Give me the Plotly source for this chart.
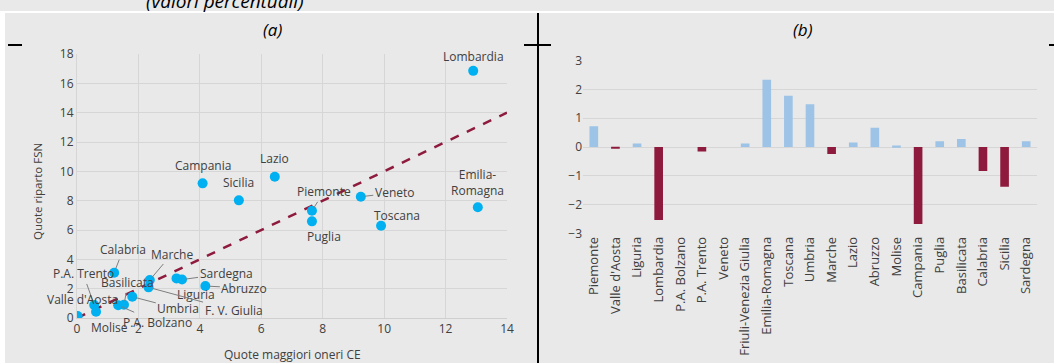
import plotly.graph_objects as go

# ---------------- data ----------------
regions_a = ["Lombardia", "Emilia-Romagna", "Veneto", "Piemonte", "Puglia", "Toscana",
             "Lazio", "Campania", "Sicilia", "Calabria", "Marche", "Sardegna", "Liguria",
             "Abruzzo", "Basilicata", "Umbria", "F. V. Giulia", "P.A. Trento",
             "Valle d'Aosta", "P.A. Bolzano", "Molise"]
quote_ce = [12.9, 13.05, 9.24, 7.65, 7.65, 9.9, 6.44, 4.09, 5.27, 1.21, 2.37, 3.42, 3.24,
            4.18, 1.53, 1.80, 2.33, 0.56, 0.02, 1.34, 0.62]
quote_fsn = [16.85, 7.55, 8.27, 7.31, 6.59, 6.29, 9.63, 9.18, 8.02, 3.09, 2.59, 2.62, 2.70,
             2.18, 0.90, 1.45, 2.09, 0.89, 0.14, 0.87, 0.43]
bisector = [0, 14]

regions_b = ["Piemonte", "Valle d'Aosta", "Liguria", "Lombardia", "P.A. Bolzano", "P.A. Trento",
             "Veneto", "Friuli-Venezia Giulia", "Emilia-Romagna", "Toscana", "Umbria", "Marche",
             "Lazio", "Abruzzo", "Molise", "Campania", "Puglia", "Basilicata", "Calabria",
             "Sicilia", "Sardegna"]
diff_b = [0.72, -0.05, 0.12, -2.54, 0.0, -0.16, 0.0, 0.12, 2.34, 1.78, 1.49, -0.24,
          0.16, 0.67, 0.05, -2.68, 0.20, 0.28, -0.83, -1.38, 0.20]

# label placement (pixel offsets, arrow flag)
label_pos = {
    "Lombardia": (0, -14, False), "Emilia-Romagna": (0, -25, False), "Veneto": (34, -4, True),
    "Piemonte": (12, -19, True), "Puglia": (12, 15, False), "Toscana": (16, -10, False),
    "Lazio": (0, -18, False), "Campania": (0, -18, False), "Sicilia": (0, -18, False),
    "Calabria": (9, -23, True), "Marche": (22, -26, True), "Sardegna": (44, -6, True),
    "Liguria": (19, 16, False), "Abruzzo": (39, 2, True), "Basilicata": (4, -22, True),
    "Umbria": (46, 12, True), "F. V. Giulia": (85, 23, True), "P.A. Trento": (-11, -31, True),
    "Valle d'Aosta": (5, -16, False), "P.A. Bolzano": (39, 17, True), "Molise": (13, 16, False),
}

W, H = 1054, 363
BG = "#e9e9e9"
GRID = "#d6d6d6"
DARKRED = "#8e1b3d"
LIGHTBLUE = "#9dc3e6"
FONT = "Open Sans"

def px(x):
    return x / W

def py(y):
    return 1 - y / H

fig = go.Figure()

fig.add_trace(go.Scatter(x=bisector, y=bisector, mode="lines",
                         line=dict(color=DARKRED, width=2.5, dash="dash"),
                         xaxis="x", yaxis="y", hoverinfo="skip"))
fig.add_trace(go.Scatter(x=quote_ce, y=quote_fsn, mode="markers",
                         marker=dict(color="#00b0f0", size=10),
                         xaxis="x", yaxis="y"))

fig.add_trace(go.Bar(x=regions_b, y=diff_b, xaxis="x2", yaxis="y2", width=0.4,
                     marker=dict(color=[LIGHTBLUE if v >= 0 else DARKRED for v in diff_b],
                                 line=dict(width=0))))

annotations = []
for name, xv, yv in zip(regions_a, quote_ce, quote_fsn):
    dx, dy, arrow = label_pos[name]
    text = "Emilia-<br>Romagna" if name == "Emilia-Romagna" else name
    if arrow:
        annotations.append(dict(x=xv, y=yv, xref="x", yref="y", text=text,
                                showarrow=True, ax=dx, ay=dy, arrowhead=0, arrowwidth=1,
                                arrowcolor="#7f7f7f", standoff=4,
                                font=dict(family=FONT, size=12, color="#404040")))
    else:
        annotations.append(dict(x=xv, y=yv, xref="x", yref="y", text=text,
                                showarrow=False, xshift=dx, yshift=-dy,
                                font=dict(family=FONT, size=12, color="#404040")))

annotations += [
    dict(x=px(225), y=py(16), xref="paper", yref="paper", text="<i>(valori percentuali)</i>",
         showarrow=False, xanchor="center", yanchor="bottom",
         font=dict(family=FONT, size=19, color="#000000")),
    dict(x=px(272), y=py(30), xref="paper", yref="paper", text="<i>(a)</i>",
         showarrow=False, xanchor="center", yanchor="middle",
         font=dict(family=FONT, size=17, color="#000000")),
    dict(x=px(803), y=py(30), xref="paper", yref="paper", text="<i>(b)</i>",
         showarrow=False, xanchor="center", yanchor="middle",
         font=dict(family=FONT, size=17, color="#000000")),
    dict(x=px(37), y=py(192), xref="paper", yref="paper", text="Quote riparto FSN",
         showarrow=False, textangle=-90, xanchor="center", yanchor="middle",
         font=dict(family=FONT, size=11.5, color="#404040")),
    dict(x=px(292), y=py(354), xref="paper", yref="paper", text="Quote maggiori oneri CE",
         showarrow=False, xanchor="center", yanchor="middle",
         font=dict(family=FONT, size=12, color="#404040")),
]

shapes = [
    dict(type="rect", xref="paper", yref="paper", x0=0, x1=1, y0=py(13), y1=py(11),
         fillcolor="white", line=dict(width=0), layer="above"),
    dict(type="rect", xref="paper", yref="paper", x0=0, x1=px(5), y0=0, y1=py(12),
         fillcolor="white", line=dict(width=0), layer="above"),
    dict(type="line", xref="paper", yref="paper", x0=px(538), x1=px(538), y0=0, y1=py(13),
         line=dict(color="black", width=2)),
    dict(type="line", xref="paper", yref="paper", x0=px(8), x1=px(22), y0=py(45), y1=py(45),
         line=dict(color="black", width=2)),
    dict(type="line", xref="paper", yref="paper", x0=px(524), x1=px(551), y0=py(45), y1=py(45),
         line=dict(color="black", width=2)),
    dict(type="line", xref="paper", yref="paper", x0=px(1049), x1=1, y0=py(45), y1=py(45),
         line=dict(color="black", width=2)),
]

tickfont = dict(family=FONT, size=12, color="#404040")

fig.update_layout(
    width=W, height=H, margin=dict(l=0, r=0, t=0, b=0),
    paper_bgcolor=BG, plot_bgcolor=BG, showlegend=False,
    annotations=annotations, shapes=shapes,
    xaxis=dict(domain=[px(77), px(507)], range=[0, 14], dtick=2, tick0=0,
               showgrid=True, gridcolor=GRID, zeroline=False, showline=True,
               linecolor="#cfcfcf", linewidth=1, ticks="", tickfont=tickfont,
               automargin=False, fixedrange=True),
    yaxis=dict(domain=[py(318), py(54)], range=[0, 18], dtick=2, tick0=0,
               showgrid=True, gridcolor=GRID, zeroline=False, showline=True,
               linecolor=GRID, linewidth=1, ticks="", tickfont=tickfont,
               automargin=False, fixedrange=True),
    xaxis2=dict(domain=[px(583), px(1037)], anchor="y2", showgrid=False, zeroline=False,
                tickangle=-90, ticks="", tickfont=dict(family=FONT, size=13, color="#404040"),
                automargin=False, fixedrange=True),
    yaxis2=dict(domain=[py(233.3), py(60.7)], anchor="x2", range=[-3, 3], dtick=1,
                showgrid=True, gridcolor=GRID, zeroline=True, zerolinecolor=GRID,
                zerolinewidth=1, ticks="", tickfont=tickfont, automargin=False,
                fixedrange=True),
)

fig.write_html("out.html")
